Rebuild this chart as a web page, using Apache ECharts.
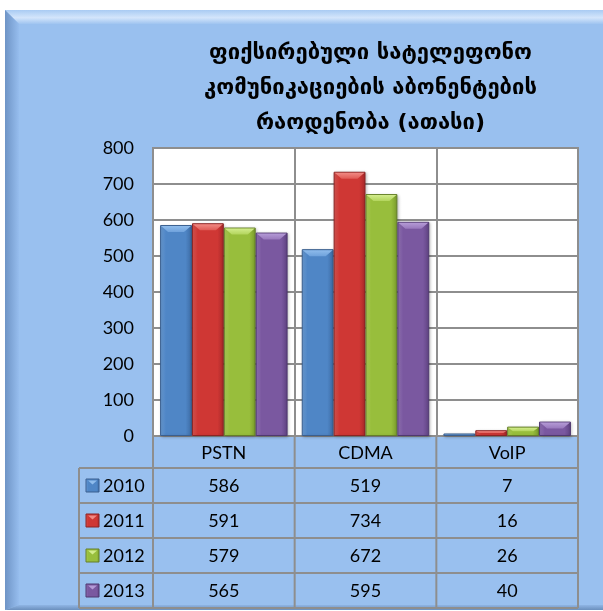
<!DOCTYPE html>
<html>
<head>
<meta charset="utf-8">
<script src="https://cdn.jsdelivr.net/npm/echarts@6/dist/echarts.min.js"></script>
<style>
  html, body { margin: 0; padding: 0; background: #ffffff; }
  #chart { width: 603px; height: 611px; }
</style>
</head>
<body>
<div id="chart"></div>
<script>
// Fixed-line telephone subscribers, thousands
const categories = ['PSTN', 'CDMA', 'VoIP'];
const years = ['2010', '2011', '2012', '2013'];
const values2010 = [586, 519, 7];
const values2011 = [591, 734, 16];
const values2012 = [579, 672, 26];
const values2013 = [565, 595, 40];
const yTickMin = 0;
const yTickMax = 800;
const yTickStep = 100;
const titleLines = ['ფიქსირებული სატელეფონო', 'კომუნიკაციების აბონენტების', 'რაოდენობა (ათასი)'];

const seriesValues = [values2010, values2011, values2012, values2013];

// bar palette: [light, base, dark, border, bevel highlight]
const palette = [
  ['#6fa2dc', '#4f86c6', '#3c6aa3', '#3a5f8f', '#8fbcec'],
  ['#e05a55', '#cf3734', '#a8282a', '#8a2424', '#f08a84'],
  ['#b2d45c', '#98be3c', '#7a9c2c', '#647f28', '#d2ec8c'],
  ['#9878bc', '#7a58a0', '#5f4282', '#4f3870', '#b49ad6']
];

// layout
const W = 603, H = 611;
const gridLeft = 153, gridRight = 578, gridTop = 148, gridBottom = 436;
const headerH = 32, rowH = 35;
const tableLeft = 79;
const font = 'Lato, "Open Sans", sans-serif';
const lineCol = '#8e8e8e';

const chart = echarts.init(document.getElementById('chart'), null, { renderer: 'canvas' });

function grad(c, horizontal) {
  return new echarts.graphic.LinearGradient(0, 0, horizontal ? 1 : 0, horizontal ? 0 : 1, [
    { offset: 0, color: c[0] },
    { offset: 0.18, color: c[1] },
    { offset: 0.8, color: c[1] },
    { offset: 1, color: c[2] }
  ]);
}

// frame and table drawn as graphic elements
const graphics = [];
const fL = 5, fT = 10, fR = 603, fB = 610, bev = 14;
graphics.push({ type: 'rect', z: -10, silent: true, shape: { x: fL, y: fT, width: fR - fL, height: fB - fT }, style: { fill: '#99c0ef' } });
graphics.push({ type: 'polygon', z: -9, silent: true,
  shape: { points: [[fL, fT], [fR, fT], [fR, fT + bev], [fL + bev, fT + bev]] },
  style: { fill: new echarts.graphic.LinearGradient(0, 0, 0, 1, [
    { offset: 0, color: '#a9cbf3' }, { offset: 0.55, color: '#d3e5fb' }, { offset: 1, color: '#9fc4f0' }]) } });
graphics.push({ type: 'polygon', z: -9, silent: true,
  shape: { points: [[fL, fT], [fL + bev, fT + bev], [fL + bev, fB - 5], [fL, fB]] },
  style: { fill: new echarts.graphic.LinearGradient(0, 0, 1, 0, [
    { offset: 0, color: '#6e94c6' }, { offset: 1, color: '#96bdee' }]) } });
graphics.push({ type: 'polygon', z: -9, silent: true,
  shape: { points: [[fL, fB], [fL + bev, fB - 5], [fR, fB - 5], [fR, fB]] },
  style: { fill: new echarts.graphic.LinearGradient(0, 0, 0, 1, [
    { offset: 0, color: '#8fb5e4' }, { offset: 1, color: '#6b8fbd' }]) } });

// table grid
const colW = (gridRight - gridLeft) / categories.length;
const tableTop = gridBottom + headerH;
const tableBottom = tableTop + rowH * years.length;
for (let c = 0; c <= categories.length; c++) {
  const x = gridLeft + c * colW;
  graphics.push({ type: 'line', silent: true, shape: { x1: x, y1: gridBottom, x2: x, y2: tableBottom }, style: { stroke: lineCol, lineWidth: 2 } });
}
graphics.push({ type: 'line', silent: true, shape: { x1: tableLeft, y1: tableTop, x2: tableLeft, y2: tableBottom }, style: { stroke: lineCol, lineWidth: 2 } });
for (let r = 0; r <= years.length; r++) {
  const y = tableTop + r * rowH;
  graphics.push({ type: 'line', silent: true, shape: { x1: tableLeft, y1: y, x2: gridRight, y2: y }, style: { stroke: lineCol, lineWidth: 2 } });
}
years.forEach((yr, r) => {
  const cy = tableTop + r * rowH + rowH / 2;
  const c = palette[r];
  graphics.push({ type: 'rect', silent: true, shape: { x: 86, y: cy - 6.5, width: 13, height: 13 },
    style: { fill: grad(c, true), stroke: c[3], lineWidth: 1 } });
  graphics.push({ type: 'polygon', silent: true, shape: { points: [[88, cy - 5], [97, cy - 5], [92.5, cy - 1]] },
    style: { fill: c[4] } });
  graphics.push({ type: 'text', silent: true, style: { x: 103, y: cy + 1, text: yr, font: '18px ' + font, fill: '#000', textVerticalAlign: 'middle', verticalAlign: 'middle' } });
  seriesValues[r].forEach((v, ci) => {
    graphics.push({ type: 'text', silent: true, style: { x: gridLeft + (ci + 0.5) * colW, y: cy + 1, text: String(v), font: '18px ' + font, fill: '#000', align: 'center', textAlign: 'center', verticalAlign: 'middle', textVerticalAlign: 'middle' } });
  });
});

const barSeries = years.map((yr, i) => ({
  name: yr,
  type: 'bar',
  data: seriesValues[i],
  barGap: '0%',
  barCategoryGap: '10%',
  itemStyle: {
    color: grad(palette[i], true),
    borderColor: palette[i][3],
    borderWidth: 1,
    shadowColor: 'rgba(0,0,0,0.25)',
    shadowBlur: 3,
    shadowOffsetX: 1,
    shadowOffsetY: 1
  },
  z: 2
}));

// bevel highlight on the top edge of every bar
const bevelSeries = years.map((yr, i) => ({
  name: yr + '-bevel',
  type: 'custom',
  z: 3,
  silent: true,
  data: seriesValues[i].map((v, ci) => [ci, v]),
  renderItem: function (params, api) {
    const ci = api.value(0), v = api.value(1);
    const top = api.coord([ci, v]);
    const base = api.coord([ci, 0]);
    const band = api.size([1, 0])[0];
    const bw = band * 0.9 / years.length;
    const x0 = top[0] - band * 0.45 + i * bw;
    const x1 = x0 + bw;
    const h = Math.min(7, (base[1] - top[1]) / 2);
    return {
      type: 'polygon',
      shape: { points: [[x0 + 1, top[1] + 1], [x1 - 1, top[1] + 1], [x1 - 1 - h, top[1] + h], [x0 + 1 + h, top[1] + h]] },
      style: { fill: new echarts.graphic.LinearGradient(0, 0, 0, 1, [
        { offset: 0, color: palette[i][4] }, { offset: 1, color: palette[i][0] }]) }
    };
  }
}));

chart.setOption({
  animation: false,
  backgroundColor: '#ffffff',
  title: {
    text: titleLines.join('\n'),
    left: (gridLeft + gridRight) / 2,
    textAlign: 'center',
    top: 31,
    textStyle: { fontFamily: '"DejaVu Sans", sans-serif', fontSize: 22, fontWeight: 'bold', lineHeight: 35, color: '#000' }
  },
  grid: {
    left: gridLeft, right: W - gridRight, top: gridTop, bottom: H - gridBottom,
    show: true, backgroundColor: '#ffffff', borderColor: lineCol, borderWidth: 2
  },
  xAxis: {
    type: 'category',
    data: categories,
    axisTick: { show: false },
    axisLine: { show: true, lineStyle: { color: lineCol, width: 2 } },
    axisLabel: { color: '#000', fontSize: 18, fontFamily: font, margin: 8 },
    splitLine: { show: true, lineStyle: { color: lineCol, width: 2 } }
  },
  yAxis: {
    type: 'value',
    min: yTickMin, max: yTickMax, interval: yTickStep,
    axisLine: { show: false },
    axisTick: { show: false },
    axisLabel: { color: '#000', fontSize: 18, fontFamily: font, margin: 19 },
    splitLine: { show: true, lineStyle: { color: lineCol, width: 2 } }
  },
  series: barSeries.concat(bevelSeries),
  graphic: graphics
});
</script>
</body>
</html>
